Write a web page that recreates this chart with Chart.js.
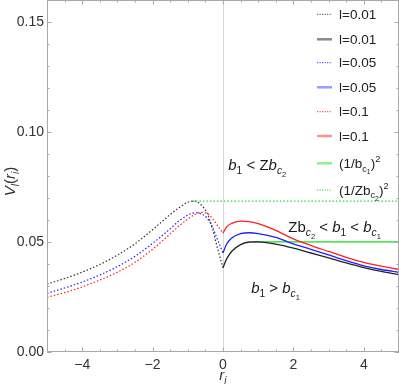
<!DOCTYPE html>
<html><head><meta charset="utf-8">
<script src="https://cdn.jsdelivr.net/npm/chart.js@4/dist/chart.umd.min.js"></script>
<style>html,body{margin:0;padding:0;background:#fff;overflow:hidden}#wrap{width:399px;height:387px;position:relative}</style>
</head><body><div id="wrap"><canvas id="c" width="399" height="387"></canvas></div>
<script>
// ---- data ----
const rLeft  = [-5,-4.5,-4,-3.5,-3,-2.5,-2,-1.5,-1.25,-1,-0.8,-0.6,-0.45,-0.3,-0.15,0];
const rRight = [0,0.1,0.25,0.5,0.75,1,1.5,2,2.5,3,3.5,4,4.5,5];
const black001Left = [0.0309,0.0334,0.0363,0.0398,0.0440,0.0492,0.0556,0.0625,0.0656,0.0681,0.0686,0.0665,0.0630,0.0560,0.0468,0.0383];
const blue005Left  = [0.0267,0.0291,0.0318,0.0350,0.0388,0.0435,0.0494,0.0560,0.0596,0.0622,0.0633,0.0627,0.0608,0.0568,0.0508,0.0450];
const red01Left    = [0.0249,0.0270,0.0296,0.0327,0.0363,0.0408,0.0467,0.0537,0.0573,0.0604,0.0625,0.0635,0.0630,0.0607,0.0573,0.0540];
const black001Right = [0.0383,0.0422,0.0458,0.0488,0.0500,0.0501,0.0490,0.0472,0.0450,0.0428,0.0405,0.0384,0.0366,0.0351];
const blue005Right  = [0.0450,0.0490,0.0518,0.0538,0.0542,0.0538,0.0521,0.0492,0.0467,0.0441,0.0415,0.0392,0.0375,0.0362];
const red01Right    = [0.0540,0.0568,0.0585,0.0595,0.0593,0.0583,0.0553,0.0514,0.0484,0.0457,0.0430,0.0407,0.0390,0.0375];
const bc1Level = 0.0501, bc1Start = 0.87;     // (1/b_c1)^2
const zbc2Level = 0.0686, zbc2Start = -0.87;  // (1/Zb_c2)^2
const xTickValues = [-4,-2,0,2,4];
const yTickValues = [0,0.05,0.10,0.15];
const legendLabels = ['l=0.01','l=0.01','l=0.05','l=0.05','l=0.1','l=0.1','(1/b_c1)^2','(1/Zb_c2)^2'];

const pts = (xs, ys) => xs.map((x,i)=>({x, y: ys[i]}));
const DOT = [1.5,2];
const datasets = [
  {label:legendLabels[0], data:pts(rLeft,black001Left), borderColor:'#333', borderDash:DOT, borderWidth:1.2},
  {label:legendLabels[1], data:pts(rRight,black001Right), borderColor:'#222', borderWidth:1.3},
  {label:legendLabels[2], data:pts(rLeft,blue005Left), borderColor:'#2020ff', borderDash:DOT, borderWidth:1.2},
  {label:legendLabels[3], data:pts(rRight,blue005Right), borderColor:'#2020ff', borderWidth:1.3},
  {label:legendLabels[4], data:pts(rLeft,red01Left), borderColor:'#ff2020', borderDash:DOT, borderWidth:1.2},
  {label:legendLabels[5], data:pts(rRight,red01Right), borderColor:'#ff2020', borderWidth:1.3},
  {label:legendLabels[6], data:[{x:bc1Start,y:bc1Level},{x:5,y:bc1Level}], borderColor:'#55e855', borderWidth:1.8},
  {label:legendLabels[7], data:[{x:zbc2Start,y:zbc2Level},{x:5,y:zbc2Level}], borderColor:'#22dd22', borderDash:DOT, borderWidth:1.1}
].map(d=>Object.assign({pointRadius:0, fill:false, cubicInterpolationMode:'monotone'}, d));

const FAM = '"Liberation Sans", Arial, sans-serif';
function drawRich(ctx, parts, x, y, size, align){
  const spec = {n:[1,0,''], i:[1,0,'italic '], sn:[0.68,0.28,''], si:[0.68,0.28,'italic '], ssn:[0.5,0.48,''], sup:[0.68,-0.42,'']};
  let w = 0;
  const items = parts.map(([t,k])=>{const s=spec[k]; const f=s[2]+(size*s[0]).toFixed(1)+'px '+FAM; ctx.font=f; const it={t,f,dy:s[1]*size,x:w}; w+=ctx.measureText(t).width; return it;});
  const x0 = align==='center' ? x-w/2 : (align==='right' ? x-w : x);
  ctx.textAlign='left'; ctx.textBaseline='alphabetic';
  items.forEach(it=>{ctx.font=it.f; ctx.fillText(it.t, x0+it.x, y+it.dy);});
  return w;
}

const decor = {
  id:'decor',
  beforeDatasetsDraw(chart){
    const {ctx, chartArea:a, scales:{x,y}} = chart;
    ctx.save();
    ctx.strokeStyle='#d8d8d8'; ctx.lineWidth=1;
    const x0 = Math.round(x.getPixelForValue(0))+0.5;
    ctx.beginPath(); ctx.moveTo(x0,a.top); ctx.lineTo(x0,a.bottom); ctx.stroke();
    ctx.restore();
  },
  afterDatasetsDraw(chart){
    const {ctx, chartArea:a, scales:{x,y}} = chart;
    ctx.save();
    // frame
    ctx.strokeStyle='#a8a8a8'; ctx.lineWidth=1;
    ctx.strokeRect(a.left+0.5, a.top+0.5, a.right-a.left-1, a.bottom-a.top-1);
    // ticks
    ctx.beginPath();
    for(let k=-10;k<=10;k++){
      const v=k/2, px=Math.round(x.getPixelForValue(v))+0.5, L=(k%4===0)?4.5:2.5;
      ctx.moveTo(px,a.bottom); ctx.lineTo(px,a.bottom-L);
      ctx.moveTo(px,a.top); ctx.lineTo(px,a.top+L);
    }
    for(let k=0;k<=16;k++){
      const py=Math.round(y.getPixelForValue(k/100))+0.5, L=(k%5===0)?4.5:2.5;
      ctx.moveTo(a.left,py); ctx.lineTo(a.left+L,py);
      ctx.moveTo(a.right,py); ctx.lineTo(a.right-L,py);
    }
    ctx.stroke();
    // annotations
    ctx.fillStyle='#1a1a1a';
    drawRich(ctx,[['b','i'],['1','sn'],[' < Z','n'],['b','i'],['c','si'],['2','ssn']], x.getPixelForValue(0.15), y.getPixelForValue(0.0827), 15,'left');
    drawRich(ctx,[['Z','n'],['b','n'],['c','si'],['2','ssn'],[' < ','n'],['b','i'],['1','sn'],[' < ','n'],['b','i'],['c','si'],['1','ssn']], x.getPixelForValue(1.855), y.getPixelForValue(0.0545), 15,'left');
    drawRich(ctx,[['b','i'],['1','sn'],[' > ','n'],['b','i'],['c','si'],['1','ssn']], x.getPixelForValue(0.8), y.getPixelForValue(0.0268), 15,'left');
    // axis titles
    ctx.fillStyle='#333';
    drawRich(ctx,[['r','i'],['i','si']], x.getPixelForValue(0), 380, 15,'center');
    ctx.translate(14.5, y.getPixelForValue(0.0775)); ctx.rotate(-Math.PI/2);
    drawRich(ctx,[['V','i'],['l','si'],['(','n'],['r','i'],['i','si'],[')','n']], 0, 0, 15,'center');
    ctx.restore();
    // legend
    ctx.save();
    const ly=[14.3,39.3,62.7,87.3,111.7,136,163.3,190];
    const legendStyle=[
      ['#444',1,true],['#8a8a8a',2.5,false],['#3030ff',1,true],['#9a9aff',2.5,false],
      ['#ff3030',1,true],['#ff9090',2.5,false],['#90f090',2.5,false],['#22dd22',1,true]];
    chart.data.datasets.forEach((d,i)=>{
      const [c,w,dot]=legendStyle[i];
      ctx.strokeStyle=c; ctx.lineWidth=w; ctx.setLineDash(dot?[1.2,1.3]:[]);
      ctx.beginPath(); ctx.moveTo(317,ly[i]); ctx.lineTo(332,ly[i]); ctx.stroke();
      ctx.fillStyle='#222';
      const lab=d.label;
      let parts;
      if(lab==='(1/b_c1)^2') parts=[['(1/b','n'],['c','sn'],['1','ssn'],[')','n'],['2','sup']];
      else if(lab==='(1/Zb_c2)^2') parts=[['(1/Zb','n'],['c','sn'],['2','ssn'],[')','n'],['2','sup']];
      else parts=[[lab,'n']];
      drawRich(ctx, parts, 339, ly[i]+4.6, 13.5, 'left');
    });
    ctx.restore();
  }
};

new Chart(document.getElementById('c'), {
  type:'line',
  data:{datasets},
  options:{
    responsive:false, animation:false, devicePixelRatio:1,
    layout:{padding:{left:0,right:0,top:0,bottom:0}},
    plugins:{legend:{display:false}, tooltip:{enabled:false}},
    scales:{
      x:{type:'linear', min:-5, max:5,
         afterBuildTicks:s=>{s.ticks=xTickValues.map(v=>({value:v}));},
         afterFit:s=>{s.height=35; s.paddingLeft=0; s.paddingRight=0; s.paddingTop=0; s.paddingBottom=0;},
         ticks:{padding:5, color:'#333', font:{family:FAM,size:14}, maxRotation:0,
                callback:v=> v<0 ? '\u2212'+Math.abs(v) : String(v)},
         grid:{display:false, drawTicks:false}, border:{display:false}},
      y:{type:'linear', min:0, max:0.16,
         afterBuildTicks:s=>{s.ticks=yTickValues.map(v=>({value:v}));},
         afterFit:s=>{s.width=47; s.paddingLeft=0; s.paddingRight=0; s.paddingTop=0; s.paddingBottom=0;},
         ticks:{padding:3, color:'#333', font:{family:FAM,size:14}, callback:v=>v.toFixed(2)},
         grid:{display:false, drawTicks:false}, border:{display:false}}
    }
  },
  plugins:[decor]
});
</script></body></html>
